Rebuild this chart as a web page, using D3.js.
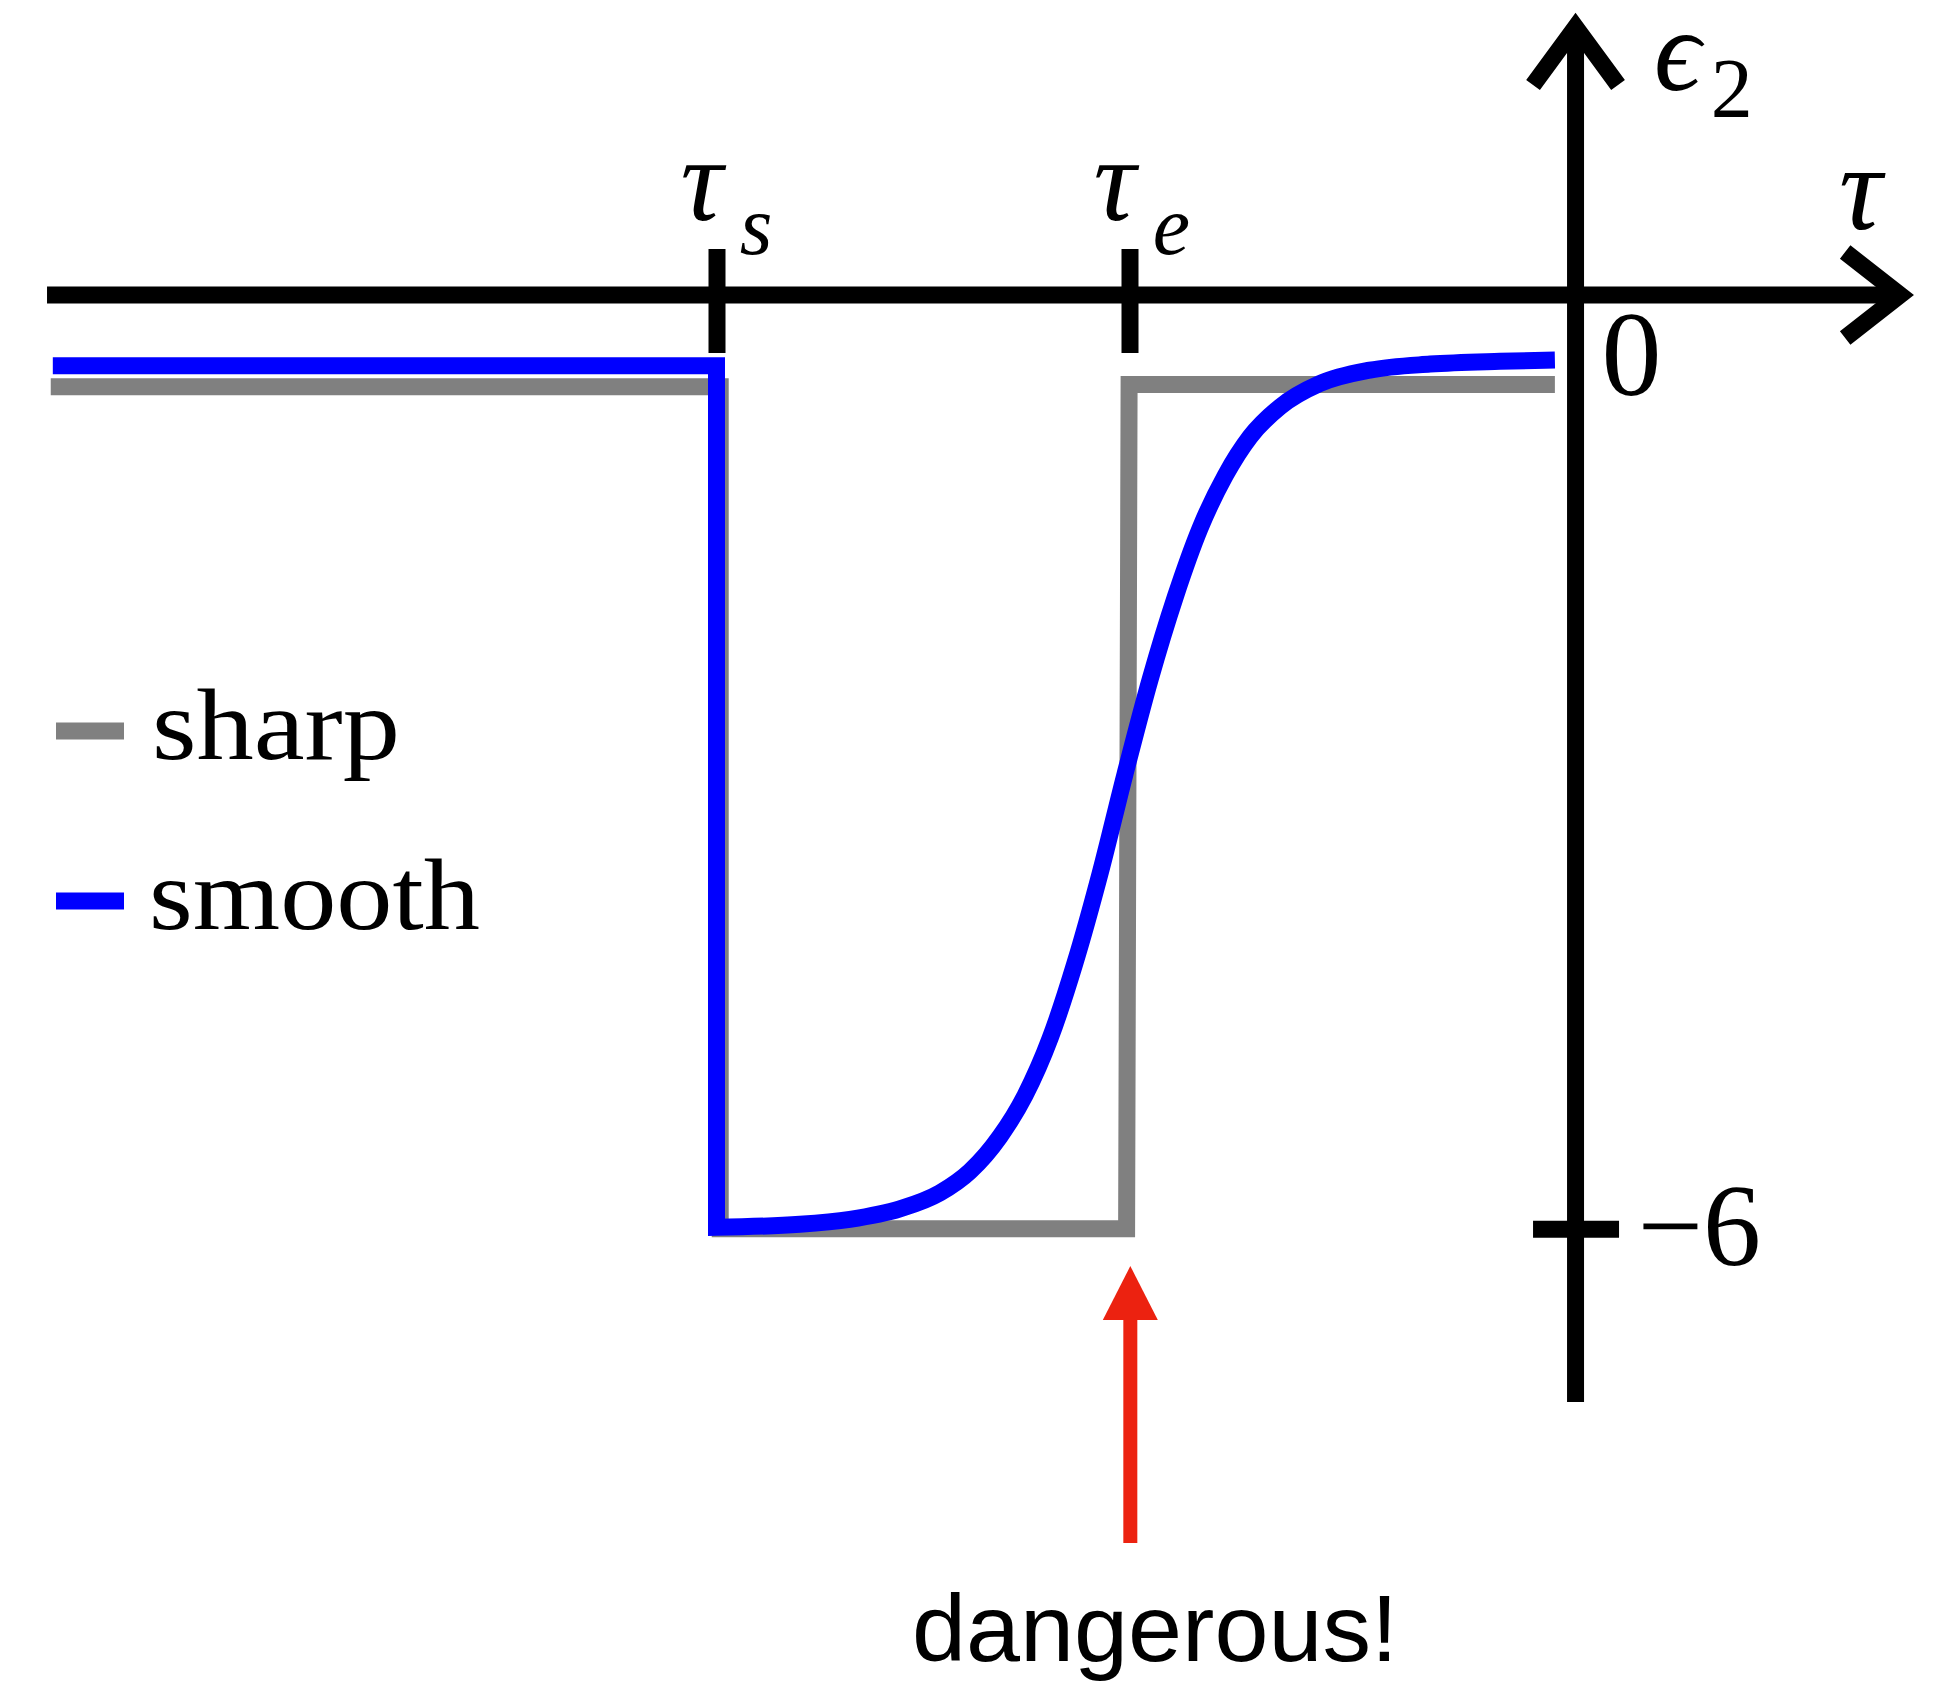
<!DOCTYPE html>
<html>
<head>
<meta charset="utf-8">
<script src="https://cdn.jsdelivr.net/npm/d3@7"></script>
<style>
  html, body { margin: 0; padding: 0; background: #fff; }
  svg { display: block; }
</style>
</head>
<body>
<svg id="chart" width="1942" height="1687"></svg>
<script>
// Tick positions on the time axis (tau_s, tau_e) and the eps_2 axis.
const tauTicks = [-2.08, -1.08];
const tauTickSubs = ["s", "e"];
const epsTicks = [0, -6];
const epsTickLabels = ["0", "\u22126"];

// Sharp switch: constant, drop to -6 at tau_s, jump back at tau_e.
const sharpTau = [-3.692, -2.071, -2.071, -1.087, -1.081, -0.050];
const sharpEps = [-0.59, -0.59, -6.0, -6.0, -0.575, -0.575];

// Smooth switch: same drop at tau_s, then a gradual recovery.
const smoothTau = [-3.687, -2.080, -2.080, -1.878, -1.757, -1.636, -1.539, -1.466, -1.394,
  -1.333, -1.272, -1.212, -1.151, -1.091, -1.030, -0.969, -0.909, -0.848, -0.788, -0.715,
  -0.619, -0.498, -0.352, -0.183, -0.050];
const smoothEps = [-0.454, -0.454, -5.991, -5.972, -5.940, -5.873, -5.770, -5.631, -5.409,
  -5.144, -4.775, -4.293, -3.715, -3.080, -2.470, -1.939, -1.498, -1.160, -0.911, -0.718,
  -0.569, -0.483, -0.444, -0.426, -0.418];

const seriesNames = ["sharp", "smooth"];
const seriesColors = ["#808080", "#0000ff"];

// Extent of the drawn axes
const tauAxisExtent = [-3.701, 0.786];
const epsAxisExtent = [-7.113, 1.722];

// Annotation arrow (tau position, eps from/to)
const warnTau = -1.078;
const warnEps = [-8.02, -6.24];
const warnText = "dangerous!";

const svg = d3.select("#chart");
svg.append("rect").attr("width", 1942).attr("height", 1687).attr("fill", "#fff");

const x = d3.scaleLinear().domain([-2.08, -1.08]).range([716.5, 1129.5]);
const y = d3.scaleLinear().domain([0, -6]).range([295, 1228.7]);

const AX = 17;       // axis stroke width
const LW = 17;       // curve stroke width
const serif = "'Liberation Serif', 'DejaVu Serif', serif";

// ---- curves ----
const sharpPts = sharpTau.map((t, i) => [x(t), y(sharpEps[i])]);
const smoothPts = smoothTau.map((t, i) => [x(t), y(smoothEps[i])]);

svg.append("path")
  .attr("d", d3.line()(sharpPts))
  .attr("fill", "none")
  .attr("stroke", seriesColors[0])
  .attr("stroke-width", LW)
  .attr("stroke-linejoin", "miter")
  .attr("stroke-miterlimit", 10);

// straight step part, then a monotone spline through the recovery
const stepPart = d3.line()(smoothPts.slice(0, 3));
const curvePart = d3.line().curve(d3.curveMonotoneX)(smoothPts.slice(2))
  .replace(/^M[^CLZ]*/, "");
svg.append("path")
  .attr("d", stepPart + curvePart)
  .attr("fill", "none")
  .attr("stroke", seriesColors[1])
  .attr("stroke-width", LW)
  .attr("stroke-linejoin", "miter")
  .attr("stroke-miterlimit", 10);

// ---- axes ----
const axisG = svg.append("g");
// horizontal tau axis with open arrow head
axisG.append("line")
  .attr("x1", x(tauAxisExtent[0])).attr("x2", x(tauAxisExtent[1]))
  .attr("y1", y(0)).attr("y2", y(0))
  .attr("stroke", "#000").attr("stroke-width", AX);
const xa = x(tauAxisExtent[1]);
axisG.append("path")
  .attr("d", `M${xa - 55},${y(0) - 43}L${xa},${y(0)}L${xa - 55},${y(0) + 43}`)
  .attr("fill", "none").attr("stroke", "#000").attr("stroke-width", AX)
  .attr("stroke-linejoin", "miter").attr("stroke-miterlimit", 10);

// vertical eps axis with open arrow head
axisG.append("line")
  .attr("x1", x(0)).attr("x2", x(0))
  .attr("y1", y(epsAxisExtent[0])).attr("y2", y(epsAxisExtent[1]))
  .attr("stroke", "#000").attr("stroke-width", AX);
const ya = y(epsAxisExtent[1]);
axisG.append("path")
  .attr("d", `M${x(0) - 42.5},${ya + 58}L${x(0)},${ya}L${x(0) + 42.5},${ya + 58}`)
  .attr("fill", "none").attr("stroke", "#000").attr("stroke-width", AX)
  .attr("stroke-linejoin", "miter").attr("stroke-miterlimit", 10);

// tick marks crossing the tau axis
const tauAxis = svg.append("g")
  .attr("transform", `translate(0,${y(0)})`)
  .call(d3.axisBottom(x).tickValues(tauTicks).tickFormat("").tickSizeOuter(0));
tauAxis.select(".domain").remove();
tauAxis.selectAll(".tick line")
  .attr("y1", -46).attr("y2", 58)
  .attr("stroke", "#000").attr("stroke-width", AX);

// tick mark crossing the eps axis (only -6 is marked)
const epsAxis = svg.append("g")
  .attr("transform", `translate(${x(0)},0)`)
  .call(d3.axisRight(y).tickValues([epsTicks[1]]).tickFormat("").tickSizeOuter(0));
epsAxis.select(".domain").remove();
epsAxis.selectAll(".tick line")
  .attr("x1", -42.5).attr("x2", 43.5)
  .attr("stroke", "#000").attr("stroke-width", AX);

// ---- tick labels ----
tauTicks.forEach((t, i) => {
  const tx = svg.append("text")
    .attr("x", x(t) - 36).attr("y", 220)
    .attr("font-family", serif).attr("font-style", "italic")
    .attr("font-size", 118).attr("fill", "#000");
  tx.append("tspan").text("\u03c4");
  tx.append("tspan").attr("font-size", 84).attr("dx", 17).attr("dy", 34).text(tauTickSubs[i]);
});

svg.append("text")
  .attr("x", x(0) + 26).attr("y", 395)
  .attr("font-family", serif).attr("font-size", 120).attr("fill", "#000")
  .text(epsTickLabels[0]);
svg.append("text")
  .attr("x", x(0) + 62).attr("y", y(epsTicks[1]) + 36)
  .attr("font-family", serif).attr("font-size", 116).attr("fill", "#000")
  .text(epsTickLabels[1]);

// axis names
svg.append("text")
  .attr("x", 1839).attr("y", 229)
  .attr("font-family", serif).attr("font-style", "italic")
  .attr("font-size", 120).attr("fill", "#000")
  .text("\u03c4");
const epsName = svg.append("text")
  .attr("x", 1654).attr("y", 90)
  .attr("font-family", serif).attr("font-size", 116).attr("fill", "#000");
epsName.append("tspan").attr("font-style", "italic").text("\u03f5");
epsName.append("tspan").attr("font-size", 84).attr("dx", 10).attr("dy", 27).text("2");

// ---- legend ----
const legend = svg.append("g");
const legendRows = [731, 901];
seriesNames.forEach((name, i) => {
  legend.append("line")
    .attr("x1", 56).attr("x2", 124)
    .attr("y1", legendRows[i]).attr("y2", legendRows[i])
    .attr("stroke", seriesColors[i]).attr("stroke-width", LW);
  legend.append("text")
    .attr("x", i === 0 ? 152 : 149).attr("y", legendRows[i] + 28)
    .attr("font-family", serif).attr("font-size", 102).attr("fill", "#000")
    .attr("textLength", i === 0 ? 248 : 331)
    .attr("lengthAdjust", "spacingAndGlyphs")
    .text(name);
});

// ---- annotation arrow ----
const red = "#ec2210";
const ax = x(warnTau);
const yTip = y(warnEps[1]);
svg.append("line")
  .attr("x1", ax).attr("x2", ax)
  .attr("y1", y(warnEps[0])).attr("y2", yTip + 50)
  .attr("stroke", red).attr("stroke-width", 14);
svg.append("path")
  .attr("d", `M${ax},${yTip}L${ax + 27.5},${yTip + 54}L${ax - 27.5},${yTip + 54}Z`)
  .attr("fill", red);
svg.append("text")
  .attr("x", 912).attr("y", 1661)
  .attr("font-family", "'Liberation Sans', Arial, sans-serif")
  .attr("font-size", 95).attr("fill", "#000")
  .attr("textLength", 486).attr("lengthAdjust", "spacingAndGlyphs")
  .text(warnText);
</script>
</body>
</html>
